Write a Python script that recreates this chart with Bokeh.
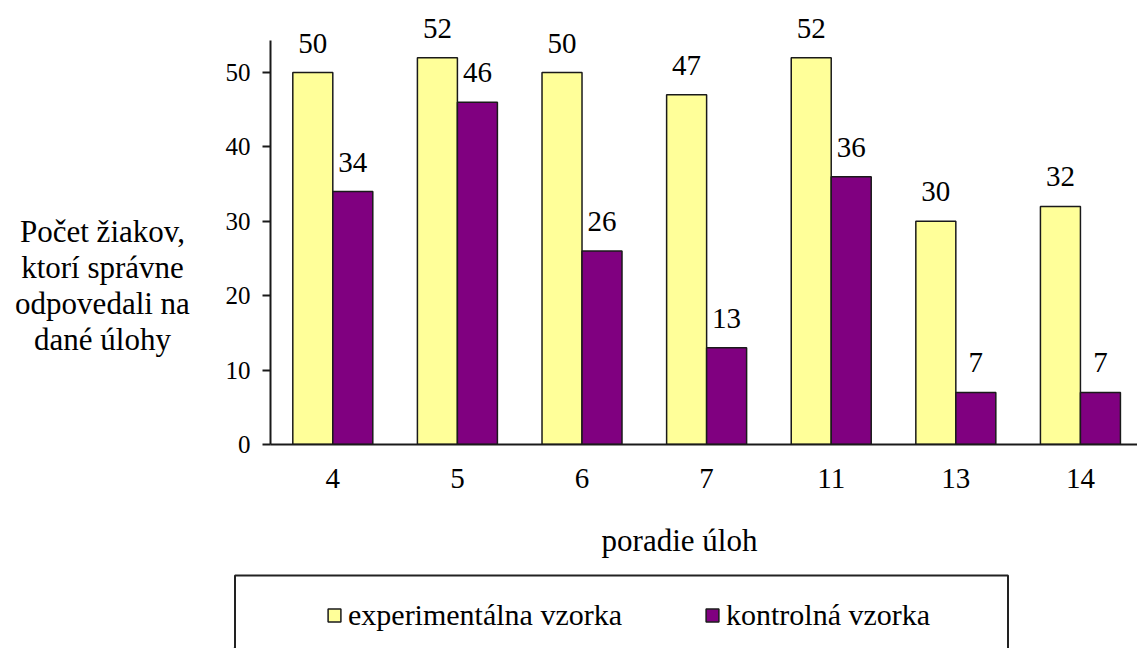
from bokeh.plotting import figure
from bokeh.models import (ColumnDataSource, Range1d, FixedTicker, LabelSet, Label,
                          Legend, LegendItem, BoxAnnotation, Spacer)
from bokeh.layouts import column, row
from bokeh.transform import dodge
from bokeh.embed import file_html
from bokeh.resources import INLINE

# ---- data ----
categories = ["4", "5", "6", "7", "11", "13", "14"]
experimental = [50, 52, 50, 47, 52, 30, 32]
control = [34, 46, 26, 13, 36, 7, 7]
y_ticks = [0, 10, 20, 30, 40, 50]

series_names = ["experimentálna vzorka", "kontrolná vzorka"]
x_title = "poradie úloh"
y_title = "Počet žiakov,\nktorí správne\nodpovedali na\ndané úlohy"

FONT = "'Liberation Serif', 'Times New Roman', serif"
YELLOW = "#FFFF99"
PURPLE = "#800080"
EDGE = "#1a1a1a"

pos = [i + 0.5 for i in range(len(categories))]
src = ColumnDataSource(dict(
    x=pos, exp=experimental, ctl=control,
    exp_t=[str(v) for v in experimental], ctl_t=[str(v) for v in control]))

TOTAL_W, MAIN_H = 1137, 520
YT_W = 200  # width of the panel holding the vertical-axis title

# ---- left title panel ----
yf = figure(width=YT_W, height=MAIN_H, output_backend="svg", toolbar_location=None,
            x_range=Range1d(0, YT_W), y_range=Range1d(0, MAIN_H),
            x_axis_type=None, y_axis_type=None, min_border=0)
yf.outline_line_color = None
yf.xgrid.grid_line_color = None
yf.ygrid.grid_line_color = None
yf.add_layout(Label(x=102, y=MAIN_H - 250, text=y_title, text_align="center",
                    text_baseline="top", text_font=FONT, text_font_size="31px",
                    text_line_height=1.03, text_color="black"))

# ---- main plot ----
p = figure(width=TOTAL_W - YT_W, height=MAIN_H, output_backend="svg",
           toolbar_location=None,
           x_range=Range1d(0, 6.958), y_range=Range1d(0, 59.68),
           min_border_left=270 - YT_W, min_border_right=0, min_border_top=0,
           min_border_bottom=MAIN_H - 444)
p.outline_line_color = None
p.xgrid.grid_line_color = None
p.ygrid.grid_line_color = None

BW = 0.321
r_exp = p.vbar(x=dodge("x", -BW / 2), top="exp", width=BW, source=src,
               fill_color=YELLOW, line_color=EDGE, line_width=1.5)
r_ctl = p.vbar(x=dodge("x", BW / 2), top="ctl", width=BW, source=src,
               fill_color=PURPLE, line_color=EDGE, line_width=1.5)

# value labels
for col, txt, off in (("exp", "exp_t", -BW / 2), ("ctl", "ctl_t", BW / 2)):
    ls = LabelSet(x=dodge("x", off), y=col, text=txt, source=src,
                  text_align="center", text_baseline="alphabetic", y_offset=20,
                  text_font=FONT, text_font_size="29px", text_color="black")
    p.add_layout(ls)

# x axis
p.xaxis.ticker = FixedTicker(ticks=pos)
p.xaxis.major_label_overrides = {v: c for v, c in zip(pos, categories)}
p.xaxis.major_tick_line_color = None
p.xaxis.major_tick_out = 0
p.xaxis.major_tick_in = 0
p.xaxis.minor_tick_line_color = None
p.xaxis.major_label_standoff = 24
p.xaxis.major_label_text_font = FONT
p.xaxis.major_label_text_font_size = "29px"
p.xaxis.major_label_text_color = "black"
p.xaxis.axis_line_color = EDGE
p.xaxis.axis_line_width = 2

# y axis
p.yaxis.ticker = FixedTicker(ticks=y_ticks)
p.yaxis.bounds = (0, 54.3)
p.yaxis.minor_tick_line_color = None
p.yaxis.major_tick_out = 8
p.yaxis.major_tick_in = 0
p.yaxis.major_tick_line_color = EDGE
p.yaxis.major_tick_line_width = 2
p.yaxis.major_label_standoff = 12
p.yaxis.major_label_text_font = FONT
p.yaxis.major_label_text_font_size = "25px"
p.yaxis.major_label_text_color = "black"
p.yaxis.axis_line_color = EDGE
p.yaxis.axis_line_width = 2

# ---- bottom panel: x title + boxed legend ----
LX = 233
LW, LH = 776, 648 - MAIN_H
lf = figure(width=LW, height=LH, output_backend="svg", toolbar_location=None,
            x_range=Range1d(0, LW), y_range=Range1d(0, LH),
            x_axis_type=None, y_axis_type=None, min_border=0)
lf.outline_line_color = None
lf.xgrid.grid_line_color = None
lf.ygrid.grid_line_color = None

lf.add_layout(Label(x=679 - LX, y=648 - 540, text=x_title, text_align="center",
                    text_baseline="middle", text_font=FONT, text_font_size="31px",
                    text_color="black"))

# legend frame (bottom edge runs off the page, as in the original)
lf.add_layout(BoxAnnotation(left=1.5, right=LW - 1.5, top=648 - 575, bottom=-20,
                            fill_alpha=0, line_color="#222222", line_width=2,
                            line_alpha=1))

# swatch renderers for the legend (a single zero-height bar outside the view)
sw = ColumnDataSource(dict(x=[-50], top=[0]))
lr_exp = lf.vbar(x="x", top="top", width=1, source=sw,
                 fill_color=YELLOW, line_color=EDGE, line_width=1.5)
lr_ctl = lf.vbar(x="x", top="top", width=1, source=sw,
                 fill_color=PURPLE, line_color=EDGE, line_width=1.5)

leg = Legend(items=[LegendItem(label=series_names[0], renderers=[lr_exp]),
                    LegendItem(label=series_names[1], renderers=[lr_ctl])],
             location=(93, 16), orientation="horizontal", padding=0, margin=0,
             spacing=0, glyph_width=16, glyph_height=16, label_standoff=6,
             label_width=356, border_line_color=None, background_fill_alpha=0,
             label_text_font=FONT, label_text_font_size="30px",
             label_text_color="black")
lf.add_layout(leg)

layout = column(row(yf, p), row(Spacer(width=LX, height=LH), lf))
open("out.html", "w").write(file_html(layout, INLINE))
